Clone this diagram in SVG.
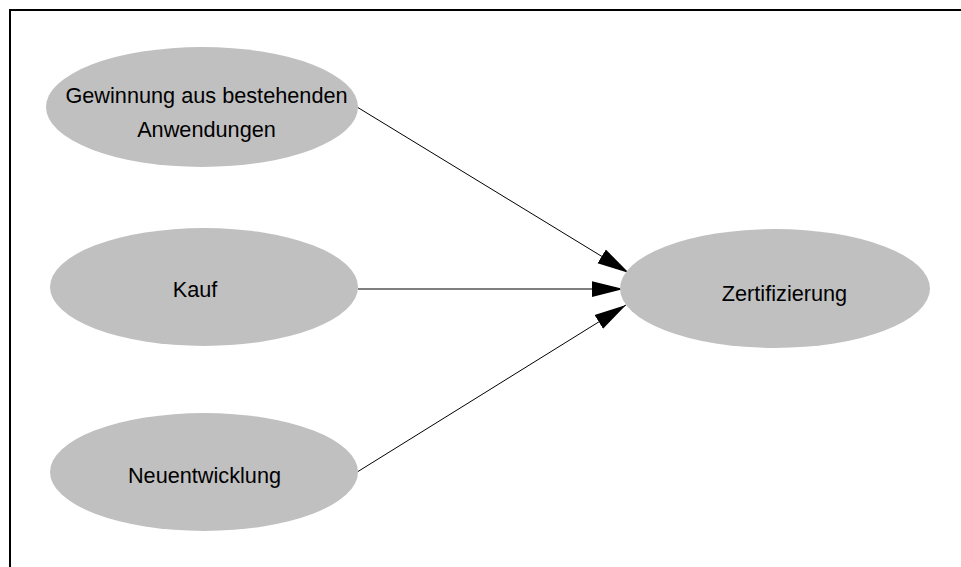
<svg xmlns="http://www.w3.org/2000/svg" width="961" height="567" viewBox="0 0 961 567">
  <style>
    .node ellipse { fill: #c0c0c0; stroke: none; }
    .node text { font-family: "Liberation Sans", Arial, sans-serif; font-size: 21.7px; fill: #000; text-anchor: middle; }
    .edge { stroke: #000; stroke-width: 1; fill: none; marker-end: url(#arrow); }
  </style>
  <defs>
    <marker id="arrow" markerUnits="userSpaceOnUse" markerWidth="34" markerHeight="18" viewBox="0 -9 34 18" refX="32" refY="0" orient="auto">
      <path d="M0,-8 L32,0 L0,8 Z" fill="#000"/>
    </marker>
  </defs>

  <rect width="961" height="567" fill="#fff"/>
  <!-- frame -->
  <path d="M10,567 V10 H961" fill="none" stroke="#000" stroke-width="2"/>

  <g id="connectors">
    <line class="edge" x1="357" y1="107" x2="629" y2="273"/>
    <line class="edge" x1="358" y1="289" x2="623.5" y2="289"/>
    <line class="edge" x1="358" y1="471.5" x2="626" y2="305"/>
  </g>

  <g id="gewinnung" class="node">
    <ellipse cx="202" cy="107" rx="156" ry="60"/>
    <text x="206.5" y="103">Gewinnung aus bestehenden</text>
    <text x="206.5" y="137">Anwendungen</text>
  </g>
  <g id="kauf" class="node">
    <ellipse cx="204" cy="287" rx="154" ry="59"/>
    <text x="195" y="297">Kauf</text>
  </g>
  <g id="neuentwicklung" class="node">
    <ellipse cx="204" cy="472" rx="154" ry="59"/>
    <text x="204.5" y="482.5">Neuentwicklung</text>
  </g>
  <g id="zertifizierung" class="node">
    <ellipse cx="775" cy="288.5" rx="155" ry="59.5"/>
    <text x="784.5" y="301">Zertifizierung</text>
  </g>
</svg>
